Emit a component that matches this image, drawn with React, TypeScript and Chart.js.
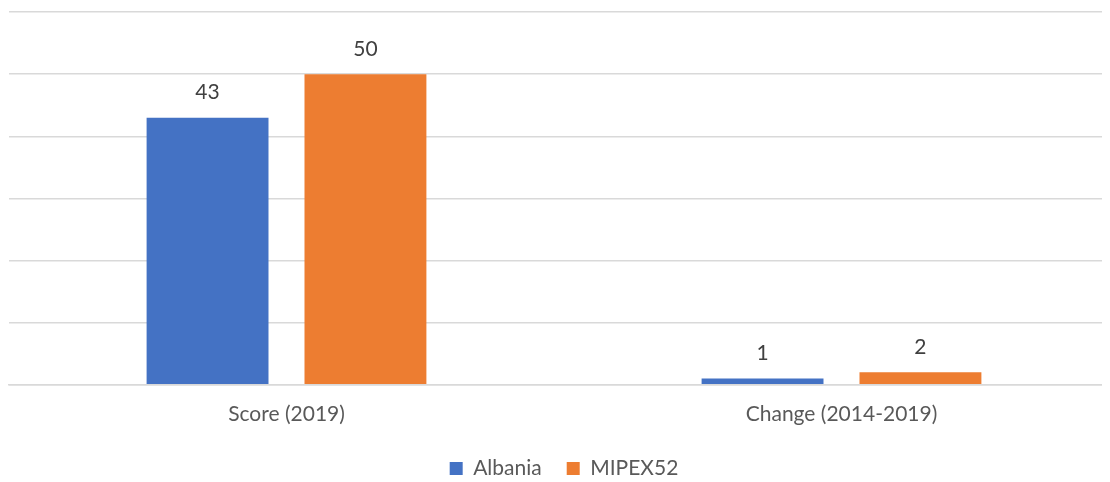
import React, { useEffect, useRef } from "react";
import { Chart, registerables } from "chart.js";

Chart.register(...registerables);

const categories = ["Score (2019)", "Change (2014-2019)"];
const albania = [43, 1];
const mipex52 = [50, 2];
const seriesNames = ["Albania", "MIPEX52"];

const FONT = "Lato, 'Open Sans', sans-serif";

const valueLabels = {
  id: "valueLabels",
  afterDatasetsDraw(chart: any) {
    const ctx = chart.ctx;
    ctx.save();
    ctx.font = `21px ${FONT}`;
    ctx.fillStyle = "#404040";
    ctx.textAlign = "center";
    ctx.textBaseline = "middle";
    chart.data.datasets.forEach((ds: any, di: number) => {
      const meta = chart.getDatasetMeta(di);
      meta.data.forEach((bar: any, i: number) => {
        ctx.fillText(String(ds.data[i]), bar.x, bar.y - 25);
      });
    });
    ctx.restore();
  },
};

export default function App() {
  const ref = useRef<HTMLCanvasElement | null>(null);
  useEffect(() => {
    if (!ref.current) return;
    const chart = new Chart(ref.current, {
      type: "bar",
      data: {
        labels: categories,
        datasets: [
          { label: seriesNames[0], data: albania, backgroundColor: "#4472C4" },
          { label: seriesNames[1], data: mipex52, backgroundColor: "#ED7D31" },
        ],
      },
      options: {
        animation: false,
        responsive: false,
        maintainAspectRatio: false,
        datasets: { bar: { categoryPercentage: 0.569, barPercentage: 0.772 } },
        layout: { padding: { left: 1, right: 1, top: 4, bottom: 0 } },
        scales: {
          x: {
            grid: { display: false },
            border: { display: true, color: "#d9d9d9", width: 1.5 },
            ticks: { color: "#595959", font: { family: FONT, size: 21 }, padding: 9 },
            afterFit: (scale: any) => {
              scale.height -= 3;
            },
          },
          y: {
            min: 0,
            max: 60,
            ticks: { display: false, stepSize: 10 },
            border: { display: false },
            grid: { color: "#d9d9d9", lineWidth: 1.5, drawTicks: false },
          },
        },
        plugins: {
          legend: {
            position: "bottom",
            labels: {
              color: "#595959",
              font: { family: FONT, size: 21 },
              boxWidth: 13,
              boxHeight: 13,
              padding: 25,
            },
          },
          tooltip: { enabled: false },
        },
      },
      plugins: [valueLabels],
    });
    return () => chart.destroy();
  }, []);
  return (
    <div style={{ width: 1102, height: 474, overflow: "hidden" }}>
      <canvas ref={ref} width={1112} height={481} style={{ display: "block" }} />
    </div>
  );
}
